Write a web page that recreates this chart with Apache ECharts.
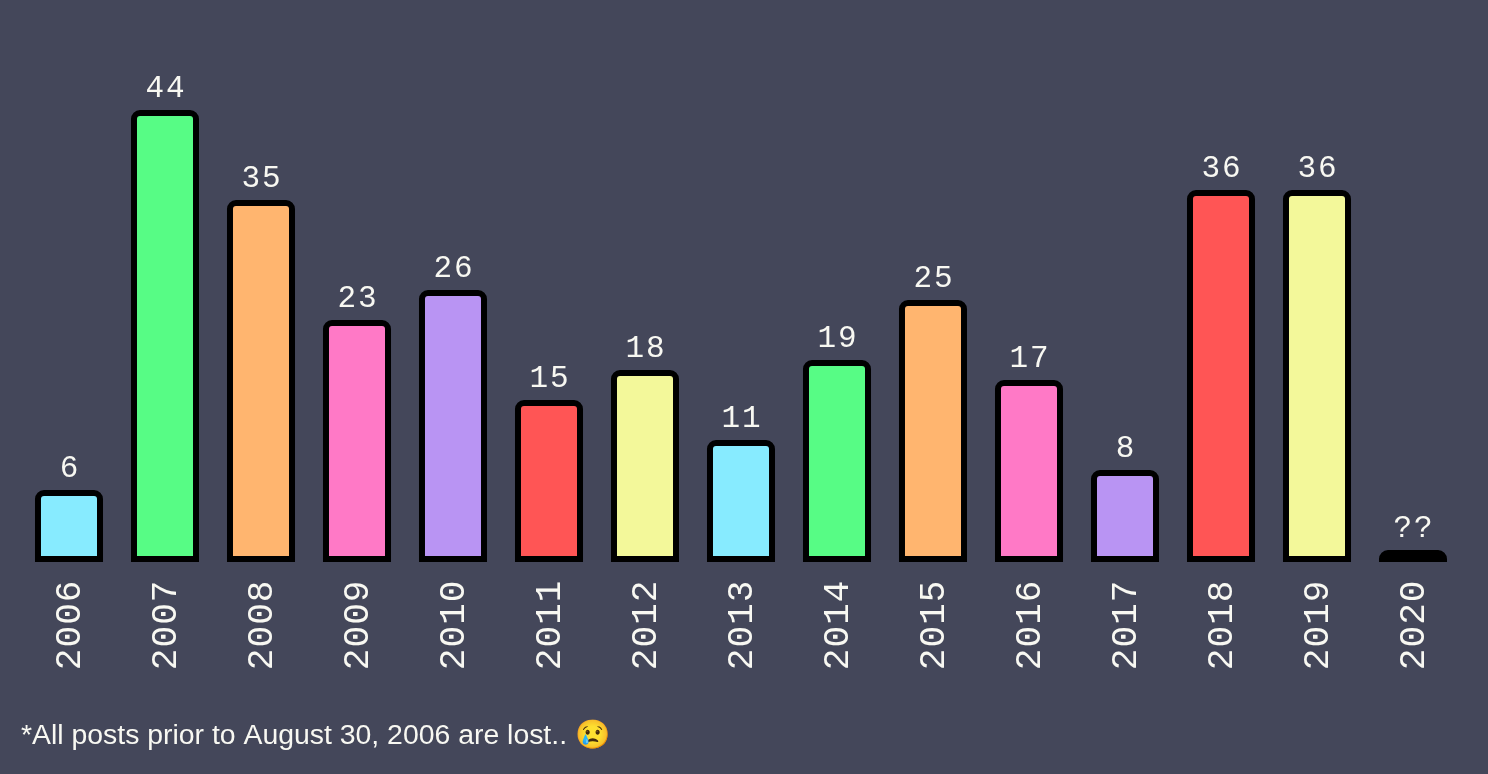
<!DOCTYPE html>
<html><head><meta charset="utf-8">
<style>html,body{margin:0;padding:0;background:#44475a}#c{width:1488px;height:774px}</style>
<script src="https://cdn.jsdelivr.net/npm/echarts@6/dist/echarts.min.js"></script>
</head><body><div id="c"></div>
<script>
const categories = ['2006','2007','2008','2009','2010','2011','2012','2013','2014','2015','2016','2017','2018','2019','2020'];
const values = [6,44,35,23,26,15,18,11,19,25,17,8,36,36,0];
const valueLabels = ['6','44','35','23','26','15','18','11','19','25','17','8','36','36','??'];
const palette = ['#87ebff','#57fc85','#ffb56f','#ff79c6','#b994f3','#ff5555','#f3f89a'];
const footnote = '*All posts prior to August 30, 2006 are lost.. \uD83D\uDE22';
const chart = echarts.init(document.getElementById('c'));
const MONO = '"Liberation Mono", monospace';
const BORDER = 6;
const spaced = s => s.split('').map(c => '{c|' + c + '}').join('');
chart.setOption({
  backgroundColor:'#44475a',
  animation:false,
  title:{text:footnote,left:21,top:722,padding:0,textStyle:{color:'#f8f8f2',fontFamily:'"Liberation Sans", sans-serif',fontSize:28.4,fontWeight:'normal'}},
  grid:{left:21,right:27,top:116,bottom:218,containLabel:false},
  xAxis:{type:'category',data:categories,
    axisLine:{show:false},axisTick:{show:false},
    axisLabel:{rotate:90,margin:24,interval:0,formatter:spaced,padding:[3,0,0,0],
      rich:{c:{width:22.7,align:'center',color:'#f8f8f2',fontFamily:MONO,fontSize:36}}}},
  yAxis:{type:'value',min:0,max:44,show:false,splitLine:{show:false}},
  series:[{
    type:'custom',
    data:values.map((v,i)=>[i,v]),
    encode:{x:0,y:1},
    clip:false,
    renderItem(params,api){
      const i=api.value(0), v=api.value(1);
      const top=api.coord([i,v]), base=api.coord([i,0]);
      const w=api.size([1,0])[0]*0.646;
      const col=v===0?'#000':palette[i%palette.length];
      return {type:'group',children:[
        {type:'rect',
         shape:{x:top[0]-w/2,y:top[1]-BORDER/2,width:w,height:base[1]-top[1]+BORDER,r:[6,6,0,0]},
         style:{fill:col,stroke:'#000',lineWidth:BORDER}},
        {type:'text',
         style:{text:spaced(valueLabels[i]),x:top[0],y:top[1]-BORDER-6,align:'center',verticalAlign:'bottom',
           rich:{c:{width:20.5,align:'center',fill:'#f8f8f2',fontFamily:MONO,fontSize:31}}}}
      ]};
    }
  }]
});
</script></body></html>
